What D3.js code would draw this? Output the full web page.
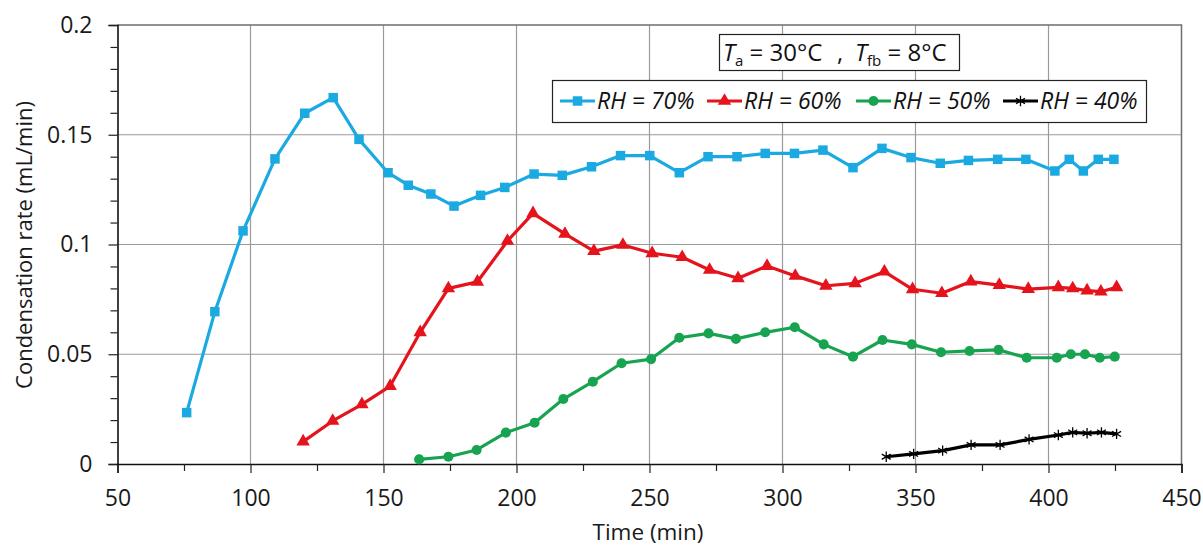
<!DOCTYPE html>
<html>
<head>
<meta charset="utf-8">
<script src="https://cdn.jsdelivr.net/npm/d3@7"></script>
<style>
  body { margin: 0; background: #fff; }
  svg { display: block; font-family: "Open Sans", sans-serif; }
</style>
</head>
<body>
<svg id="chart" width="1203" height="547"></svg>
<script>
//---- Data -----------------------------------------------------------------------------------
var rh70_t = [76, 86.6, 97.2, 109.2, 120.4, 131.1, 140.8, 151.7, 159.3, 167.8, 176.5, 186.5, 195.6, 206.6,
  217.2, 228.2, 239.1, 250.1, 261.2, 272, 282.9, 293.5, 304.5, 315.2, 326.5, 337.4, 348.3, 359.3, 369.9,
  380.9, 391.5, 402.4, 407.8, 413.1, 418.7, 424.6];
var rh70_v = [0.0234, 0.0694, 0.1062, 0.139, 0.1598, 0.1669, 0.1479, 0.1327, 0.127, 0.123, 0.1175, 0.1224,
  0.126, 0.1321, 0.1315, 0.1354, 0.1405, 0.1405, 0.1327, 0.14, 0.14, 0.1415, 0.1415, 0.143, 0.135, 0.1438,
  0.1396, 0.137, 0.1383, 0.1388, 0.1388, 0.1335, 0.1388, 0.1335, 0.1388, 0.1388];

var rh60_t = [119.8, 130.9, 141.9, 152.5, 163.8, 174.4, 185.3, 196.6, 206.2, 218.2, 229.1, 240, 251, 262.3,
  272.6, 283.3, 294.2, 304.8, 316.3, 327.3, 338.3, 348.9, 359.9, 370.8, 381.5, 392.4, 403.7, 409.1, 414.5,
  419.7, 425.6];
var rh60_v = [0.0102, 0.0196, 0.0272, 0.0355, 0.06, 0.08, 0.083, 0.1016, 0.1142, 0.1048, 0.097, 0.0998,
  0.096, 0.0942, 0.0884, 0.0846, 0.0902, 0.0857, 0.0812, 0.0823, 0.0876, 0.0796, 0.0778, 0.0831, 0.0815,
  0.0797, 0.0805, 0.08, 0.079, 0.0785, 0.0805];

var rh50_t = [163.4, 174.4, 185, 196, 206.8, 217.6, 228.7, 239.5, 250.6, 261.2, 272.2, 282.5, 293.5, 304.6,
  315.5, 326.5, 337.6, 348.6, 359.6, 370.3, 381.2, 391.8, 403.1, 408.4, 413.7, 419.3, 424.9];
var rh50_v = [0.0021, 0.0033, 0.0064, 0.0143, 0.0188, 0.0296, 0.0375, 0.0459, 0.0478, 0.0575, 0.0595, 0.057,
  0.06, 0.0623, 0.0545, 0.0489, 0.0565, 0.0545, 0.0509, 0.0515, 0.052, 0.0484, 0.0484, 0.05, 0.05, 0.0484,
  0.0489];

var rh40_t = [339, 349.3, 360.2, 370.9, 381.8, 392.7, 403.7, 409.1, 414.5, 419.9, 425.6];
var rh40_v = [0.0033, 0.0046, 0.0061, 0.0087, 0.0087, 0.0112, 0.0132, 0.0144, 0.014, 0.0144, 0.0137];

var xTicks = [50, 100, 150, 200, 250, 300, 350, 400, 450];
var yTicks = [0, 0.05, 0.1, 0.15, 0.2];
var seriesNames = ["RH = 70%", "RH = 60%", "RH = 50%", "RH = 40%"];

//---- Setup ----------------------------------------------------------------------------------
var svg = d3.select("#chart");
var x = d3.scaleLinear().domain([50, 450]).range([117.5, 1181.5]);
var y = d3.scaleLinear().domain([0, 0.2]).range([464, 25]);

var series = [
  { name: seriesNames[0], t: rh70_t, v: rh70_v, color: "#1ba9e1", symbol: d3.symbolSquare, size: 90, fill: true },
  { name: seriesNames[1], t: rh60_t, v: rh60_v, color: "#e5131b", symbol: d3.symbolTriangle, size: 78, fill: true },
  { name: seriesNames[2], t: rh50_t, v: rh50_v, color: "#17a350", symbol: d3.symbolCircle, size: 80, fill: true },
  { name: seriesNames[3], t: rh40_t, v: rh40_v, color: "#000000", symbol: d3.symbolAsterisk, size: 75, fill: false }
];

//---- Grid ------------------------------------------------------------------------------------
var grid = svg.append("g");
grid.selectAll(".vg")
  .data(xTicks.slice(1, -1))
  .enter().append("line")
  .attr("x1", d => x(d)).attr("x2", d => x(d))
  .attr("y1", y(0.2)).attr("y2", y(0))
  .attr("stroke", "#9a9a9a").attr("stroke-width", 1.2);
grid.selectAll(".hg")
  .data(yTicks.slice(1, -1))
  .enter().append("line")
  .attr("x1", x(50)).attr("x2", x(450))
  .attr("y1", d => y(d)).attr("y2", d => y(d))
  .attr("stroke", "#9a9a9a").attr("stroke-width", 1.2);
// plot border top / right
grid.append("path")
  .attr("d", `M${x(50)},${y(0.2)}H${x(450)}V${y(0)}`)
  .attr("fill", "none").attr("stroke", "#6e6e6e").attr("stroke-width", 1.5);

//---- Axes ------------------------------------------------------------------------------------
var xAxis = svg.append("g")
  .attr("transform", `translate(0,${y(0)})`)
  .call(d3.axisBottom(x).tickValues(xTicks).tickSize(9).tickFormat(d3.format("d")));
var xMinor = svg.append("g")
  .attr("transform", `translate(0,${y(0)})`)
  .call(d3.axisBottom(x).tickValues(d3.range(75, 450, 50)).tickSize(7).tickFormat(""));
var yAxis = svg.append("g")
  .attr("transform", `translate(${x(50)},0)`)
  .call(d3.axisLeft(y).tickValues(yTicks).tickSize(9).tickFormat(d => d === 0 ? "0" : String(d)));
var yMinor = svg.append("g")
  .attr("transform", `translate(${x(50)},0)`)
  .call(d3.axisLeft(y).tickValues(d3.range(0.01, 0.2, 0.01).filter((d, i) => (i + 1) % 5 !== 0)).tickSize(7).tickFormat(""));

[xAxis, xMinor, yAxis, yMinor].forEach(g => {
  g.select(".domain").attr("stroke", "#111").attr("stroke-width", 1.6);
  g.selectAll(".tick line").attr("stroke", "#222").attr("stroke-width", 1.2);
});
xMinor.select(".domain").remove();
yMinor.select(".domain").remove();
xAxis.selectAll(".tick text")
  .attr("font-family", "Open Sans").attr("font-size", 23).attr("fill", "#1a1a1a")
  .attr("dy", "0.71em").attr("y", 26);
yAxis.selectAll(".tick text")
  .attr("font-family", "Open Sans").attr("font-size", 23).attr("fill", "#1a1a1a")
  .attr("x", -25);

svg.append("text")
  .attr("x", 648).attr("y", 540)
  .attr("text-anchor", "middle")
  .attr("font-size", 22.5).attr("fill", "#1a1a1a")
  .text("Time (min)");
svg.append("text")
  .attr("transform", "translate(32,245) rotate(-90)")
  .attr("text-anchor", "middle")
  .attr("font-size", 22).attr("fill", "#1a1a1a")
  .text("Condensation rate (mL/min)");

//---- Series ----------------------------------------------------------------------------------
var line = d3.line().x(d => x(d[0])).y(d => y(d[1]));

series.forEach(s => {
  var pts = s.t.map((t, i) => [t, s.v[i]]);
  var g = svg.append("g");
  g.append("path")
    .datum(pts)
    .attr("d", line)
    .attr("fill", "none")
    .attr("stroke", s.color)
    .attr("stroke-width", 3.2)
    .attr("stroke-linejoin", "round");
  g.selectAll("path.mk")
    .data(pts)
    .enter().append("path")
    .attr("class", "mk")
    .attr("transform", d => `translate(${x(d[0])},${y(d[1])})`)
    .attr("d", d3.symbol(s.symbol, s.size))
    .attr("fill", s.fill ? s.color : "none")
    .attr("stroke", s.color)
    .attr("stroke-width", s.fill ? 0 : 1.3);
});

//---- Annotation box ----------------------------------------------------------------------------
svg.append("rect")
  .attr("x", 719.5).attr("y", 34.5).attr("width", 240).attr("height", 36)
  .attr("fill", "#fff").attr("stroke", "#222").attr("stroke-width", 1.2);
var ann = svg.append("text")
  .attr("x", 723).attr("y", 61)
  .attr("font-size", 24).attr("fill", "#111");
ann.append("tspan").attr("font-style", "italic").text("T");
ann.append("tspan").attr("font-size", 15).attr("dy", 5).text("a");
ann.append("tspan").attr("dy", -5).text(" = 30°C");
ann.append("tspan").attr("x", 837).text(",");
ann.append("tspan").attr("x", 855).attr("font-style", "italic").text("T");
ann.append("tspan").attr("font-size", 15).attr("dy", 5).text("fb");
ann.append("tspan").attr("dy", -5).text(" = 8°C");

//---- Legend ----------------------------------------------------------------------------------
svg.append("rect")
  .attr("x", 552.5).attr("y", 80.5).attr("width", 594).attr("height", 42)
  .attr("fill", "#fff").attr("stroke", "#222").attr("stroke-width", 1.2);
var legX = [560, 707, 856, 1003];
series.forEach((s, i) => {
  var lg = svg.append("g").attr("transform", `translate(${legX[i]},101)`);
  lg.append("line")
    .attr("x1", 0).attr("x2", 35)
    .attr("stroke", s.color).attr("stroke-width", 3.2);
  lg.append("path")
    .attr("transform", "translate(17.5,0)")
    .attr("d", d3.symbol(s.symbol, s.size))
    .attr("fill", s.fill ? s.color : "none")
    .attr("stroke", s.color)
    .attr("stroke-width", s.fill ? 0 : 1.3);
  lg.append("text")
    .attr("x", 37).attr("y", 8)
    .attr("font-size", 23).attr("font-style", "italic").attr("fill", "#111")
    .text(s.name);
});
</script>
</body>
</html>
